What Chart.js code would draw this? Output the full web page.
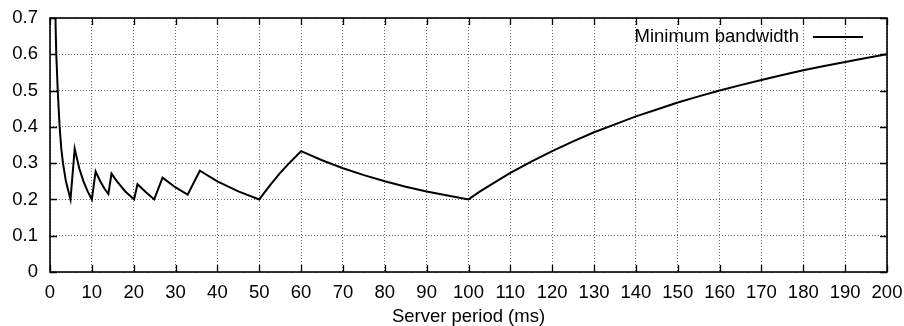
<!DOCTYPE html>
<html>
<head>
<meta charset="utf-8">
<script src="https://cdn.jsdelivr.net/npm/chart.js@4/dist/chart.umd.min.js"></script>
<style>
  html, body { margin: 0; padding: 0; background: #ffffff; }
  #wrap { width: 904px; height: 326px; position: relative; }
</style>
</head>
<body>
<div id="wrap"><canvas id="c" width="904" height="326"></canvas></div>
<script>
// Server period (ms)
const serverPeriod = [1.1, 1.5, 1.85, 2.3, 2.7, 3.1, 3.8, 4.9, 5.9, 7, 8, 9, 10, 10.9, 12, 13, 13.95, 14.7, 16, 18, 20.1, 20.9, 23, 24.9, 26.9, 30, 32.9, 35.8, 40, 45, 50, 52.5, 55, 57.5, 60, 65, 70, 75, 80, 85, 90, 95, 100, 102.5, 105, 110, 115, 120, 125, 130, 135, 140, 145, 150, 155, 160, 165, 170, 175, 180, 185, 190, 195, 200];
// Minimum bandwidth
const minBandwidth = [0.80, 0.60, 0.50, 0.40, 0.34, 0.30, 0.25, 0.20, 0.34, 0.285, 0.25, 0.222, 0.20, 0.277, 0.25, 0.23, 0.215, 0.271, 0.25, 0.222, 0.20, 0.242, 0.219, 0.20, 0.26, 0.233, 0.213, 0.279, 0.25, 0.222, 0.20, 0.238, 0.273, 0.304, 0.333, 0.308, 0.286, 0.267, 0.25, 0.235, 0.222, 0.211, 0.20, 0.22, 0.238, 0.273, 0.304, 0.333, 0.36, 0.385, 0.407, 0.429, 0.448, 0.467, 0.484, 0.50, 0.515, 0.529, 0.543, 0.556, 0.568, 0.579, 0.59, 0.60];
const seriesLabel = 'Minimum bandwidth';
const xTitle = 'Server period (ms)';
const xMin = 0, xMax = 200, xStep = 10;
const yMin = 0, yMax = 0.7, yStep = 0.1;

const FONT = "'Liberation Sans', Arial, Helvetica, sans-serif";
const FS = 18.5;

const framePlugin = {
  id: 'frameTicks',
  afterDatasetsDraw(chart) {
    const ctx = chart.ctx;
    const a = chart.chartArea;
    const xs = chart.scales.x, ys = chart.scales.y;
    const tl = 7;
    ctx.save();
    ctx.strokeStyle = '#000';
    ctx.lineWidth = 1.3;
    ctx.beginPath();
    xs.ticks.forEach(t => {
      const px = Math.round(xs.getPixelForValue(t.value)) + 0.5;
      ctx.moveTo(px, a.bottom); ctx.lineTo(px, a.bottom - tl);
      ctx.moveTo(px, a.top); ctx.lineTo(px, a.top + tl);
    });
    ys.ticks.forEach(t => {
      const py = Math.round(ys.getPixelForValue(t.value)) + 0.5;
      ctx.moveTo(a.left, py); ctx.lineTo(a.left + tl, py);
      ctx.moveTo(a.right, py); ctx.lineTo(a.right - tl, py);
    });
    ctx.stroke();
    ctx.lineWidth = 1.6;
    ctx.strokeRect(a.left, a.top, a.right - a.left, a.bottom - a.top);
    // legend (gnuplot style: text then line sample)
    ctx.fillStyle = '#000';
    ctx.font = FS + 'px ' + FONT;
    ctx.textAlign = 'right';
    ctx.textBaseline = 'alphabetic';
    ctx.fillText(chart.data.datasets[0].label, a.right - 88, a.top + 23.5);
    ctx.lineWidth = 2;
    ctx.beginPath();
    ctx.moveTo(a.right - 74, a.top + 19);
    ctx.lineTo(a.right - 24, a.top + 19);
    ctx.stroke();
    ctx.restore();
  }
};

new Chart(document.getElementById('c'), {
  type: 'line',
  data: {
    datasets: [{
      label: seriesLabel,
      data: serverPeriod.map((x, i) => ({ x: x, y: minBandwidth[i] })),
      borderColor: '#000',
      borderWidth: 2,
      pointRadius: 0,
      tension: 0,
      fill: false
    }]
  },
  options: {
    responsive: false,
    animation: false,
    devicePixelRatio: 1,
    layout: { padding: { top: 18, right: 17, left: 0, bottom: 0 } },
    plugins: { legend: { display: false }, tooltip: { enabled: false } },
    scales: {
      x: {
        type: 'linear',
        min: xMin, max: xMax,
        afterFit(s) { s.height = 54; s.paddingLeft = 0; s.paddingRight = 0; },
        ticks: { stepSize: xStep, padding: 10, color: '#000', font: { family: FONT, size: FS }, maxRotation: 0, autoSkip: false },
        grid: { color: '#666', lineWidth: 1, drawTicks: false },
        border: { display: false, dash: [1, 2] },
        title: { display: true, text: xTitle, color: '#000', font: { family: FONT, size: FS }, padding: { top: 0, bottom: -2 } }
      },
      y: {
        type: 'linear',
        min: yMin, max: yMax,
        afterFit(s) { s.width = 50; s.paddingTop = 0; s.paddingBottom = 0; },
        ticks: {
          stepSize: yStep, padding: 12, color: '#000', font: { family: FONT, size: FS },
          callback: v => String(Number(v.toFixed(1)))
        },
        grid: { color: '#666', lineWidth: 1, drawTicks: false },
        border: { display: false, dash: [1, 2] }
      }
    }
  },
  plugins: [framePlugin]
});
</script>
</body>
</html>
